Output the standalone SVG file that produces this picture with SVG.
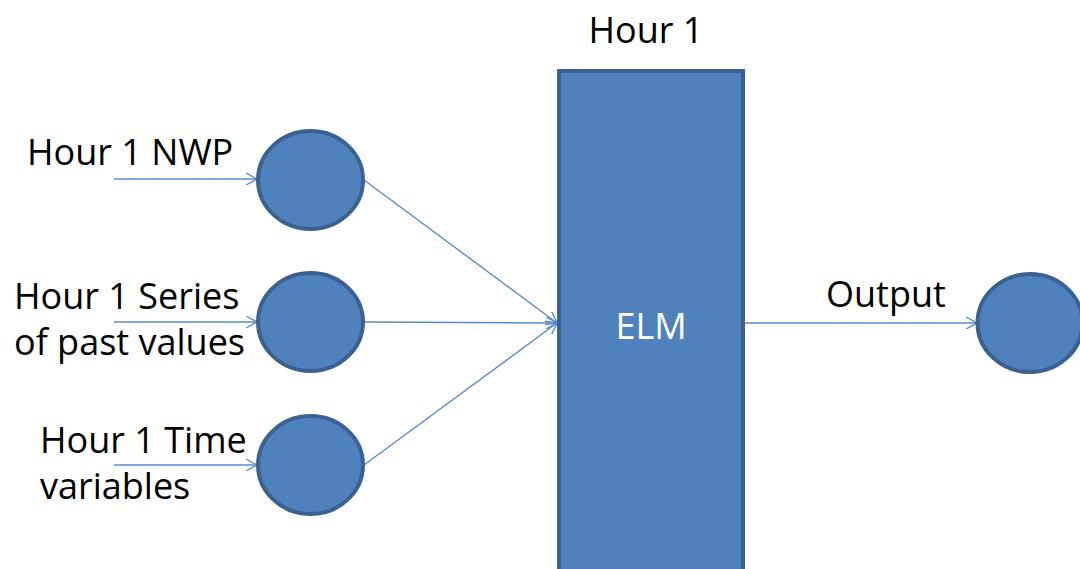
<svg xmlns="http://www.w3.org/2000/svg" width="1080" height="569" viewBox="0 0 1080 569">
  <style>
    .node { fill: #4F81BD; stroke: #3A6190; stroke-width: 4; }
    .link { fill: none; stroke: #5B8BC7; stroke-width: 1.4; }
    .label { font-family: "Open Sans", "Liberation Sans", sans-serif; font-size: 36px; fill: #000; }
    .inner { font-family: "Open Sans", "Liberation Sans", sans-serif; font-size: 36px; fill: #fff; }
  </style>
  <defs>
    <marker id="arrow" viewBox="0 0 12 12" refX="11" refY="6" markerWidth="12" markerHeight="12" markerUnits="userSpaceOnUse" orient="auto">
      <path d="M0,0 L11,6 L0,12" fill="none" stroke="#5B8BC7" stroke-width="1.4"/>
    </marker>
  </defs>
  <rect width="1080" height="569" fill="#fff"/>

  <g id="connectors">
    <line class="link" x1="114" y1="179" x2="257" y2="179" marker-end="url(#arrow)"/>
    <line class="link" x1="114" y1="322" x2="257" y2="322" marker-end="url(#arrow)"/>
    <line class="link" x1="114" y1="465" x2="257" y2="465" marker-end="url(#arrow)"/>
    <line class="link" x1="364" y1="180" x2="557" y2="323" marker-end="url(#arrow)"/>
    <line class="link" x1="364" y1="322" x2="557" y2="323" marker-end="url(#arrow)"/>
    <line class="link" x1="364" y1="465" x2="557" y2="323" marker-end="url(#arrow)"/>
    <line class="link" x1="743" y1="323" x2="977" y2="323" marker-end="url(#arrow)"/>
  </g>

  <g id="elm">
    <rect class="node" x="559" y="71" width="184" height="510"/>
    <text class="inner" x="651" y="339" text-anchor="middle">ELM</text>
    <text class="label" x="646" y="43" text-anchor="middle">Hour 1</text>
  </g>

  <g id="input-nwp">
    <ellipse class="node" cx="310.5" cy="180" rx="52.5" ry="49"/>
    <text class="label" x="27" y="165">Hour 1 NWP</text>
  </g>

  <g id="input-series">
    <ellipse class="node" cx="310.5" cy="322" rx="52.5" ry="49"/>
    <text class="label" x="14" y="309">Hour 1 Series</text>
    <text class="label" x="14" y="355">of past values</text>
  </g>

  <g id="input-time">
    <ellipse class="node" cx="310.5" cy="465" rx="52.5" ry="49"/>
    <text class="label" x="40" y="453">Hour 1 Time</text>
    <text class="label" x="40" y="499">variables</text>
  </g>

  <g id="output">
    <ellipse class="node" cx="1030" cy="323" rx="52.5" ry="49"/>
    <text class="label" x="826" y="307">Output</text>
  </g>
</svg>
